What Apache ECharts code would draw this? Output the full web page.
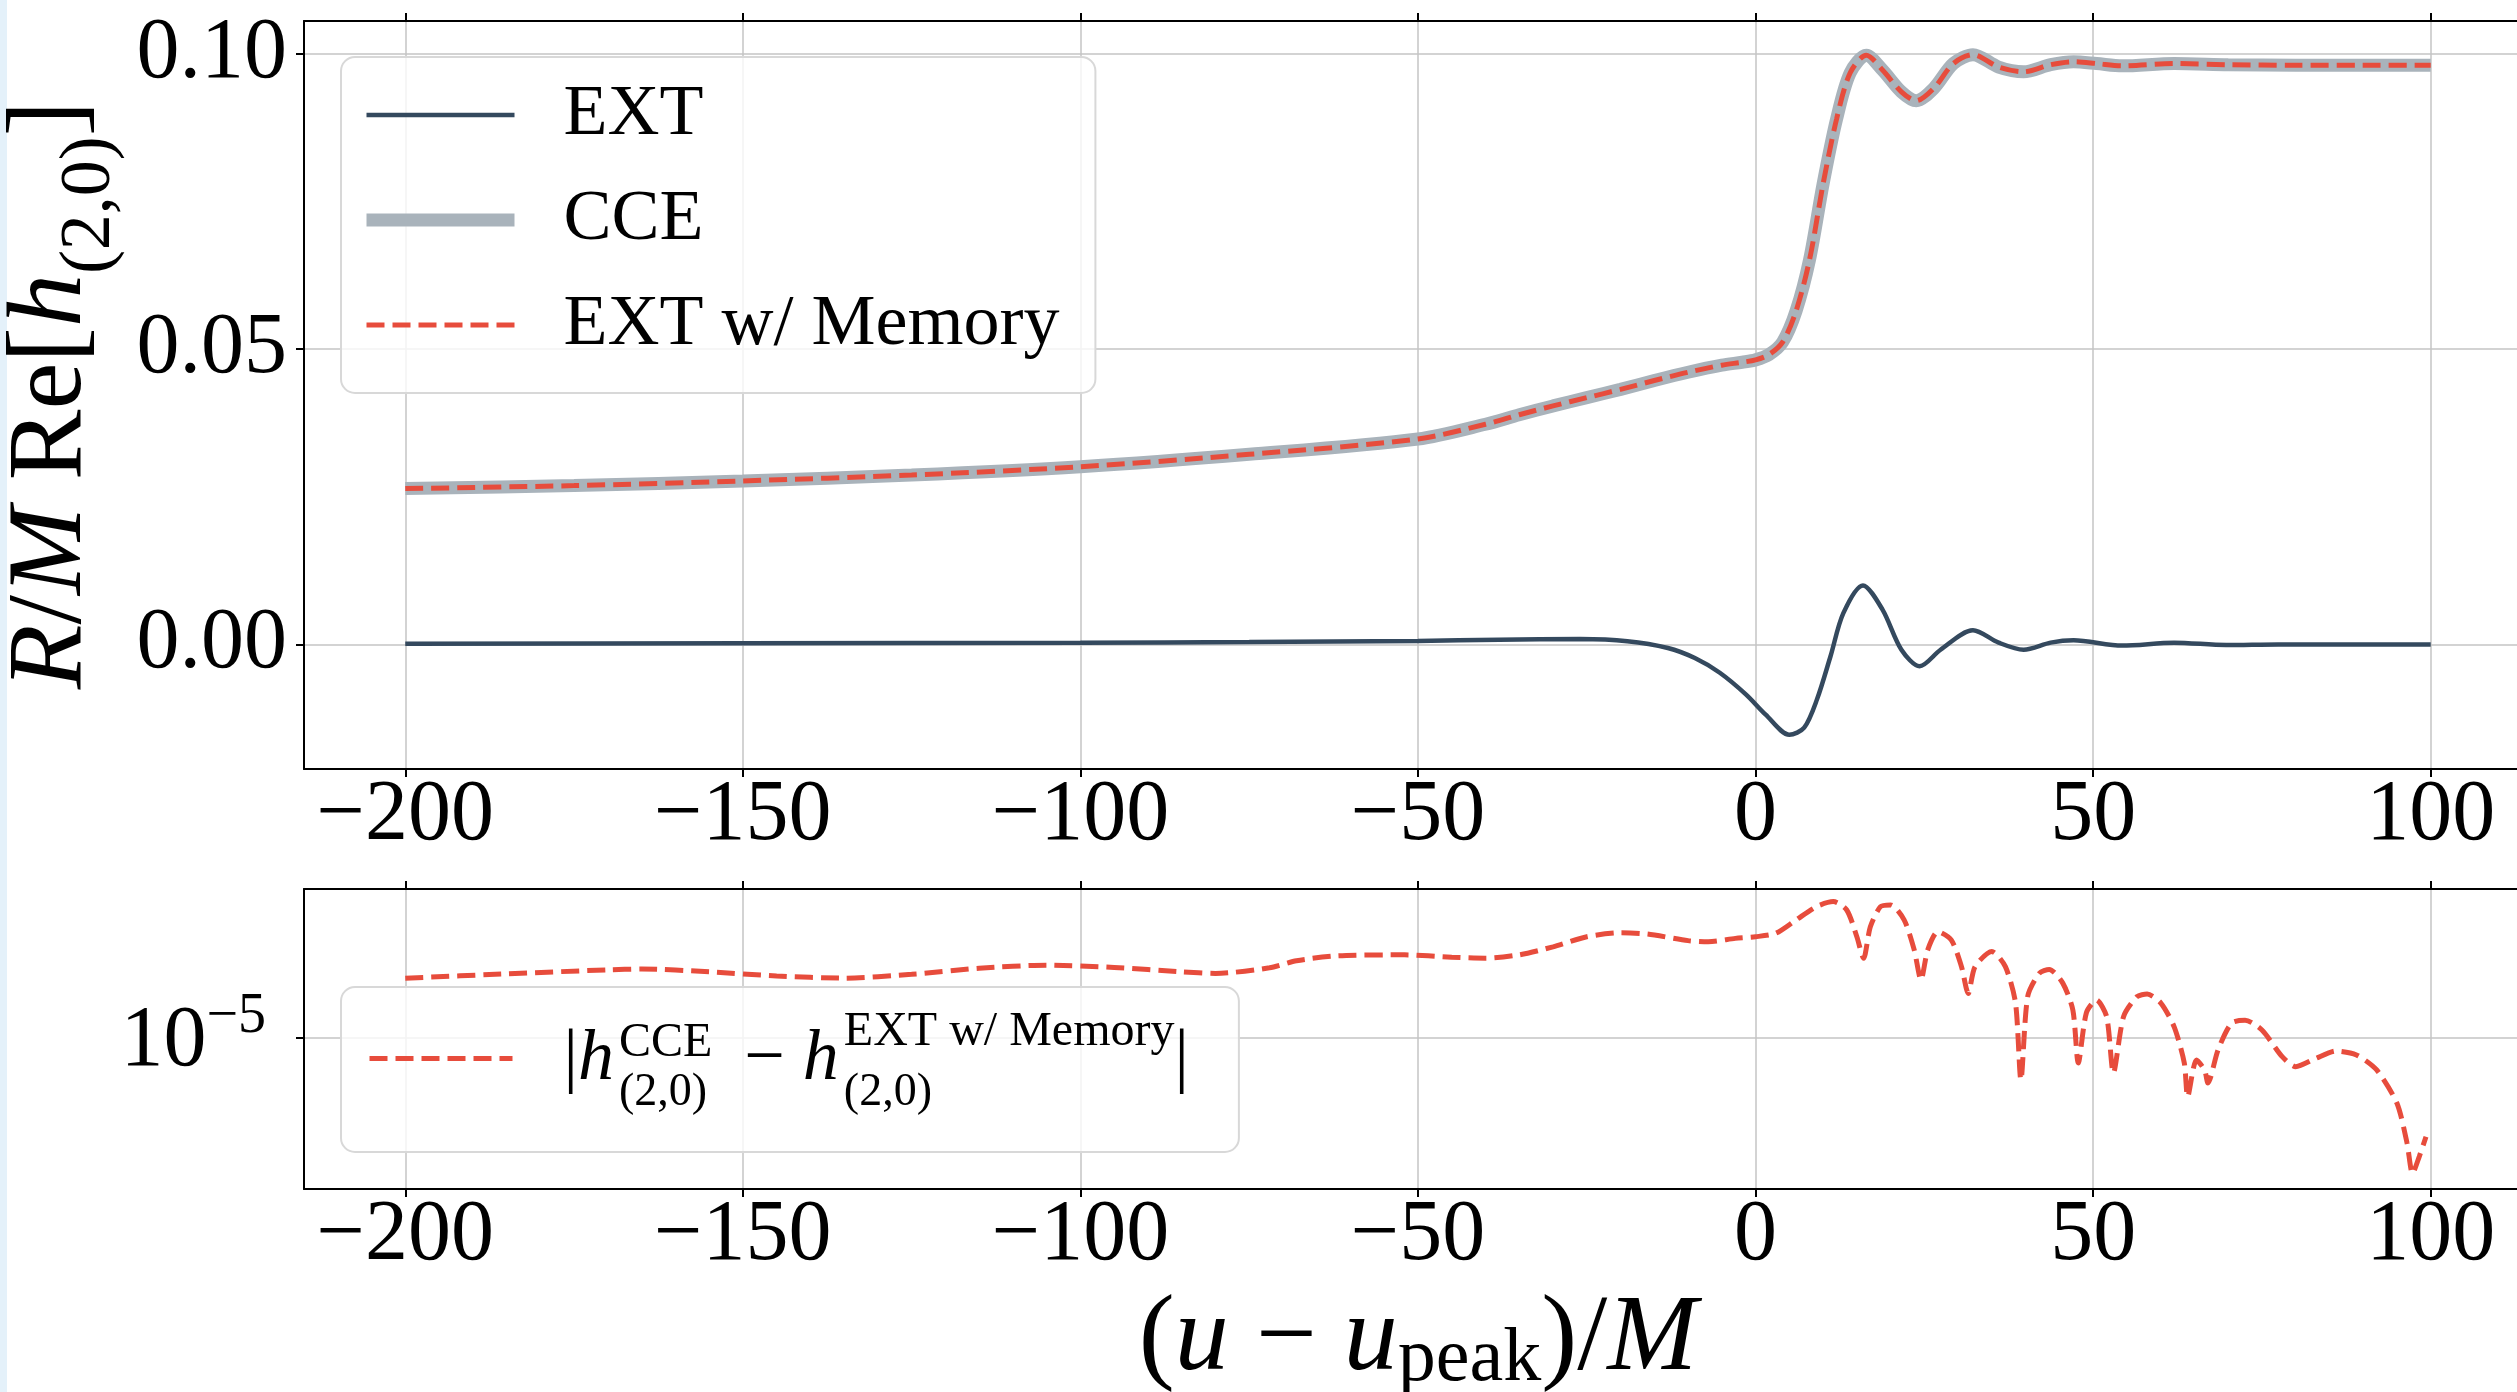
<!DOCTYPE html>
<html><head><meta charset="utf-8">
<script src="https://cdn.jsdelivr.net/npm/echarts@6/dist/echarts.min.js"></script>
<style>html,body{margin:0;padding:0;background:#fff}#c{width:2517px;height:1392px}</style>
</head><body><div id="c"></div><script>
// ---------- data ----------
const xTicks = [-200, -150, -100, -50, 0, 50, 100];
const yTicksTop = [0, 0.05, 0.10];
const yTicksBottom = [1e-5];

const extT = [-200,-150,-100,-75,-50,-38,-26,-19,-13,-9,-5.3,-1.4,1.5,5,7.2,9.1,11.1,13,15.9,18.8,21.6,24.3,27.4,32.2,36,39.7,43.7,47.1,54.3,62,69.7,77.4,100];
const extV = [0.0001,0.0002,0.0003,0.0004,0.0006,0.0008,0.0009,0.00055,-0.0006,-0.0023,-0.0048,-0.0085,-0.0119,-0.0153,-0.0141,-0.0093,-0.0020,0.0053,0.0100,0.0059,-0.0009,-0.0037,-0.0009,0.0024,0.0003,-0.0009,0.0003,0.0007,-0.0002,0.0003,-0.0001,0,0];

const cceT = [-200,-175,-150,-125,-100,-75,-50,-40,-35,-30,-25,-20,-15,-10,-5,-2,0,2,4,6,8,10,12,14,16.4,18.8,21.6,23.8,26.4,29.3,32.2,36,39.7,43.7,47.1,50.5,54.3,62,70,80,90,100];
const cceV = [0.0264,0.0269,0.0277,0.0287,0.0301,0.0322,0.0348,0.0373,0.0389,0.0404,0.0418,0.0432,0.0447,0.0461,0.0473,0.0478,0.0482,0.0491,0.0512,0.0565,0.0652,0.0780,0.0890,0.0968,0.0998,0.0973,0.0936,0.0921,0.0942,0.0984,0.0999,0.0978,0.0970,0.0982,0.0987,0.0984,0.0980,0.0984,0.0982,0.0981,0.0981,0.0981];

const memT = [-200,-175,-150,-125,-100,-75,-50,-40,-35,-30,-25,-20,-15,-10,-5,-2,0,2,4,6,8,10,12,14,16.4,18.8,21.6,23.8,26.4,29.3,32.2,36,39.7,43.7,47.1,50.5,54.3,62,70,80,90,100];
const memV = [0.0264,0.0269,0.0277,0.0287,0.0301,0.0322,0.0348,0.0373,0.0389,0.0404,0.0418,0.0432,0.0447,0.0461,0.0473,0.0478,0.0482,0.0491,0.0512,0.0565,0.0652,0.0780,0.0890,0.0968,0.0998,0.0973,0.0936,0.0921,0.0942,0.0984,0.0999,0.0978,0.0970,0.0982,0.0987,0.0984,0.0980,0.0984,0.0982,0.0981,0.0981,0.0981];

const diffT = [-200,-185,-170,-165,-155,-145,-135,-125,-115,-105,-95,-85,-80,-72,-68,-62,-52,-45,-40,-35,-30,-25,-20,-16,-10,-7,-3,0,3,6,9,11.5,13.5,15,16,17,18.5,20,22,23.5,24.5,25.5,27,29,30.5,31.5,32.5,35,37,38.5,39.3,40.3,42,43.5,45.5,47,47.8,49,50.5,52,53,54.5,56.5,58,60,62,63.5,64,65.3,66.5,67,68.5,70.5,72.5,75,78,80,83,86,89,92,95,96.5,97.3,98.3,99.3];
const diffV = [1.98e-5,2.08e-5,2.18e-5,2.20e-5,2.13e-5,2.03e-5,1.98e-5,2.07e-5,2.22e-5,2.30e-5,2.24e-5,2.13e-5,2.09e-5,2.23e-5,2.42e-5,2.56e-5,2.59e-5,2.52e-5,2.49e-5,2.59e-5,2.84e-5,3.19e-5,3.34e-5,3.29e-5,3.05e-5,3.01e-5,3.13e-5,3.19e-5,3.32e-5,3.87e-5,4.51e-5,4.78e-5,4.34e-5,3.19e-5,2.49e-5,3.58e-5,4.51e-5,4.60e-5,3.87e-5,2.74e-5,1.94e-5,2.74e-5,3.38e-5,3.07e-5,2.26e-5,1.66e-5,2.26e-5,2.69e-5,2.26e-5,1.49e-5,6.13e-6,1.60e-5,2.09e-5,2.19e-5,1.87e-5,1.37e-5,7.46e-6,1.33e-5,1.54e-5,1.27e-5,6.65e-6,1.27e-5,1.60e-5,1.65e-5,1.49e-5,1.13e-5,7.46e-6,5.06e-6,7.72e-6,6.88e-6,5.92e-6,8.66e-6,1.18e-5,1.22e-5,1.09e-5,8.02e-6,7.15e-6,7.87e-6,8.56e-6,8.18e-6,6.88e-6,4.69e-6,2.96e-6,2.09e-6,2.54e-6,3.19e-6];

// ---------- styles ----------
const F = 'Liberation Serif';
const C_EXT = '#34495e', C_CCE = '#a9b3bb', C_MEM = '#e74c3c';
const GRID_C = '#c4c4c4';
const DASH = [18, 8];

const pair = (t, v) => t.map((x, i) => [x, v[i]]);

const tickStyle = { show: true, inside: false, length: 8, lineStyle: { color: '#000', width: 2 } };
const lineAx = { show: true, onZero: false, lineStyle: { color: '#000', width: 2 } };
const noDot = { opacity: 0 };

function xAx(gridIndex, position, withLabel, extra) {
  return Object.assign({
    type: 'value', gridIndex, position, min: -215, max: 115,
    axisLine: lineAx,
    axisTick: Object.assign({ customValues: xTicks }, tickStyle),
    axisLabel: withLabel ? {
      customValues: xTicks, fontFamily: F, fontSize: 86, color: '#000', margin: 4,
      formatter: v => (v < 0 ? '\u2212' + Math.abs(v) : String(v))
    } : { show: false },
    splitLine: { show: position === 'bottom', lineStyle: { color: GRID_C, width: 1.5 } }
  }, extra || {});
}

const chart = echarts.init(document.getElementById('c'), null, { renderer: 'canvas', width: 2517, height: 1392 });

chart.setOption({
  animation: false,
  backgroundColor: '#fff',
  graphic: [{ type: 'rect', shape: { x: 0, y: 0, width: 7, height: 1392 }, style: { fill: '#e4f1fa' }, z: -1 }],
  grid: [
    { left: 304, top: 21, width: 2228, height: 748, outerBoundsMode: 'none', containLabel: false },
    { left: 304, top: 889, width: 2228, height: 300, outerBoundsMode: 'none', containLabel: false }
  ],
  legend: [
    {
      orient: 'vertical', left: 341, top: 57, padding: [18, 36, 28, 19],
      itemWidth: 148, itemHeight: 40, itemGap: 25, selectedMode: false,
      backgroundColor: 'rgba(255,255,255,0.8)', borderColor: '#d8d8d8', borderWidth: 2, borderRadius: 14,
      textStyle: { fontFamily: F, fontSize: 72, color: '#000', lineHeight: 80, padding: [0, 0, 0, 44] },
      data: [
        { name: 'EXT', itemStyle: noDot, lineStyle: { width: 4.5, color: C_EXT, type: 'solid' } },
        { name: 'CCE', itemStyle: noDot, lineStyle: { width: 13, color: C_CCE, type: 'solid' } },
        { name: 'EXT w/ Memory', itemStyle: noDot, lineStyle: { width: 5, color: C_MEM, type: DASH } }
      ]
    },
    {
      orient: 'vertical', left: 341, top: 987, padding: [21, 50, 36, 26],
      itemWidth: 143, itemHeight: 40, selectedMode: false,
      backgroundColor: 'rgba(255,255,255,0.8)', borderColor: '#d8d8d8', borderWidth: 2, borderRadius: 14,
      formatter: () => '{bar||}{h|h}{sub1|(2,0)}{sup1|CCE}{op| \u2212 }{h|h}{sub2|(2,0)}{sup2|EXT w/ Memory}{bar||}',
      textStyle: {
        fontFamily: F, fontSize: 72, color: '#000', padding: [0, 0, 0, 46],
        rich: {
          bar: { fontFamily: F, fontSize: 72, color: '#000', verticalAlign: 'top', padding: [23, 0, 0, 0] },
          h: { fontFamily: F, fontStyle: 'italic', fontSize: 72, color: '#000', verticalAlign: 'top', padding: [23, 5, 0, 0] },
          op: { fontFamily: F, fontSize: 72, color: '#000', verticalAlign: 'top', padding: [23, 0, 0, 14] },
          sub1: { fontFamily: F, fontSize: 46, color: '#000', verticalAlign: 'top', padding: [69, 0, 0, 0], width: 0 },
          sup1: { fontFamily: F, fontSize: 48, color: '#000', verticalAlign: 'top', padding: [18, 0, 0, 0] },
          sub2: { fontFamily: F, fontSize: 46, color: '#000', verticalAlign: 'top', padding: [69, 0, 0, 0], width: 0 },
          sup2: { fontFamily: F, fontSize: 48, color: '#000', verticalAlign: 'top', padding: [7, 0, 0, 0] }
        }
      },
      data: [{ name: 'diff', itemStyle: noDot, lineStyle: { width: 5, color: C_MEM, type: DASH } }]
    }
  ],
  xAxis: [
    xAx(0, 'bottom', true),
    xAx(1, 'bottom', true, {
      name: '{p|(}{it|u}{op| \u2212 }{it|u}{sub|peak}{p|)/}{it|M}',
      nameLocation: 'middle', nameGap: 98,
      nameTextStyle: {
        fontFamily: F, fontSize: 108, color: '#000',
        rich: {
          p: { fontFamily: F, fontSize: 108, color: '#000', verticalAlign: 'top' },
          op: { fontFamily: F, fontSize: 108, color: '#000', verticalAlign: 'top' },
          it: { fontFamily: F, fontStyle: 'italic', fontSize: 108, color: '#000', verticalAlign: 'top' },
          sub: { fontFamily: F, fontSize: 76, color: '#000', verticalAlign: 'top', padding: [35, 0, 0, 0] }
        }
      }
    }),
    xAx(0, 'top', false),
    xAx(1, 'top', false)
  ],
  yAxis: [
    {
      type: 'value', gridIndex: 0, min: -0.0211, max: 0.1056, position: 'left',
      axisLine: lineAx,
      axisTick: Object.assign({ customValues: yTicksTop }, tickStyle),
      axisLabel: { customValues: yTicksTop, fontFamily: F, fontSize: 86, color: '#000', margin: 17, formatter: v => v.toFixed(2) },
      splitLine: { show: true, lineStyle: { color: GRID_C, width: 1.5 } },
      name: '{it|R}{rm|/}{it|M}{rm| Re[}{it|h}{sub|(2,0)}{rm|]}',
      nameLocation: 'middle', nameRotate: 90, nameGap: 153,
      nameTextStyle: {
        fontFamily: F, fontSize: 106, color: '#000',
        rich: {
          it: { fontFamily: F, fontStyle: 'italic', fontSize: 106, color: '#000', verticalAlign: 'top' },
          rm: { fontFamily: F, fontSize: 106, color: '#000', verticalAlign: 'top' },
          sub: { fontFamily: F, fontSize: 72, color: '#000', verticalAlign: 'top', padding: [54, 0, 0, 0] }
        }
      }
    },
    {
      type: 'log', logBase: 10, gridIndex: 1, min: 1.748e-6, max: 5.526e-5, position: 'left',
      axisLine: lineAx,
      axisTick: Object.assign({ customValues: yTicksBottom }, tickStyle),
      axisLabel: {
        customValues: yTicksBottom, margin: 38,
        formatter: () => '{b|10}{s|\u22125}',
        rich: {
          b: { fontFamily: F, fontSize: 86, color: '#000', verticalAlign: 'top', padding: [10, 0, 0, 0] },
          s: { fontFamily: F, fontSize: 56, color: '#000', verticalAlign: 'top', padding: [0, 0, 0, 0] }
        }
      },
      splitLine: { show: true, lineStyle: { color: GRID_C, width: 1.5 } }
    }
  ],
  series: [
    { name: 'EXT', type: 'line', xAxisIndex: 0, yAxisIndex: 0, data: pair(extT, extV), smooth: 0.3,
      showSymbol: false, symbol: 'none', lineStyle: { color: C_EXT, width: 4.5 }, itemStyle: { color: C_EXT }, z: 3 },
    { name: 'CCE', type: 'line', xAxisIndex: 0, yAxisIndex: 0, data: pair(cceT, cceV), smooth: 0.3,
      showSymbol: false, symbol: 'none', lineStyle: { color: C_CCE, width: 13 }, itemStyle: { color: C_CCE }, z: 4 },
    { name: 'EXT w/ Memory', type: 'line', xAxisIndex: 0, yAxisIndex: 0, data: pair(memT, memV), smooth: 0.3,
      showSymbol: false, symbol: 'none', lineStyle: { color: C_MEM, width: 5, type: DASH }, itemStyle: { color: C_MEM }, z: 5 },
    { name: 'diff', type: 'line', xAxisIndex: 1, yAxisIndex: 1, data: pair(diffT, diffV), smooth: 0.25,
      showSymbol: false, symbol: 'none', lineStyle: { color: C_MEM, width: 5, type: DASH }, itemStyle: { color: C_MEM }, z: 5 }
  ]
});
</script></body></html>
